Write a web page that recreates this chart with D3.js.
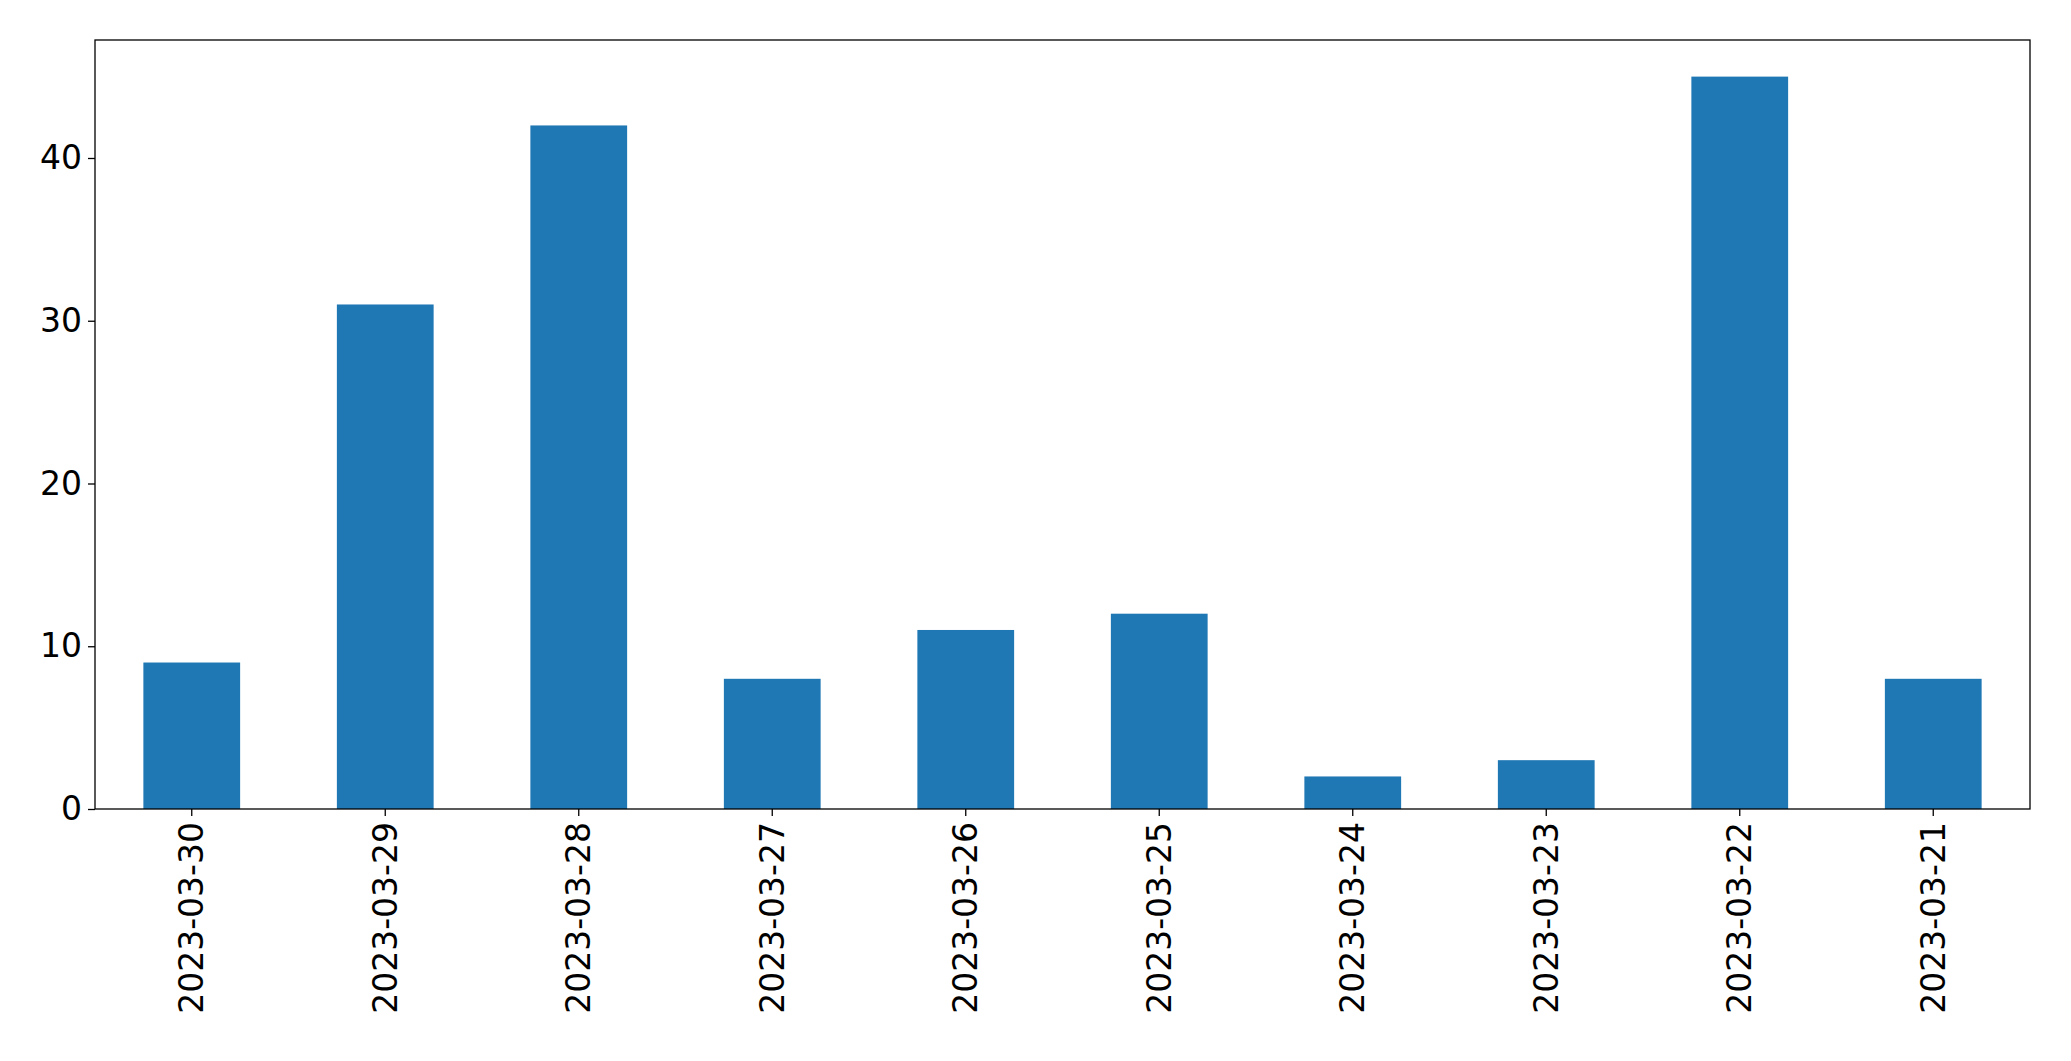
<!DOCTYPE html><html><head><script src="https://cdn.jsdelivr.net/npm/d3@7"></script>
<style>body{margin:0;background:#fff}</style></head><body><svg id="c" width="2071" height="1061"></svg>
<script>
const categories=["2023-03-30","2023-03-29","2023-03-28","2023-03-27","2023-03-26","2023-03-25","2023-03-24","2023-03-23","2023-03-22","2023-03-21"];
const values=[9,31,42,8,11,12,2,3,45,8];
const yTicks=[0,10,20,30,40];
const m={l:95,r:2030,t:40,b:809};
const svg=d3.select("#c");
const x=d3.scaleBand().domain(categories).range([m.l,m.r]).paddingInner(0.5).paddingOuter(0.25);
const y=d3.scaleLinear().domain([0,47.25]).range([m.b,m.t]);
svg.selectAll("rect.bar").data(values).join("rect").attr("class","bar")
 .attr("x",(d,i)=>x(categories[i])).attr("width",x.bandwidth())
 .attr("y",d=>y(d)).attr("height",d=>y(0)-y(d)).attr("fill","#1f77b4");
svg.append("rect").attr("x",m.l).attr("y",m.t).attr("width",m.r-m.l).attr("height",m.b-m.t).attr("fill","none").attr("stroke","#000").attr("stroke-width",1.3);
const ya=svg.append("g").attr("transform",`translate(${m.l},0)`).call(d3.axisLeft(y).tickValues(yTicks).tickSize(7).tickPadding(6));
const xa=svg.append("g").attr("transform",`translate(0,${m.b})`).call(d3.axisBottom(x).tickSize(7).tickPadding(6));
[ya,xa].forEach(a=>{a.select(".domain").remove();a.selectAll("line").attr("stroke","#000").attr("stroke-width",1.3);a.selectAll("text").attr("font-family","DejaVu Sans").attr("font-size",33).attr("fill","#000");});
xa.selectAll("text").attr("transform","rotate(-90)").attr("text-anchor","end").attr("dy","0.35em").attr("x",-13).attr("y",0);
</script></body></html>
